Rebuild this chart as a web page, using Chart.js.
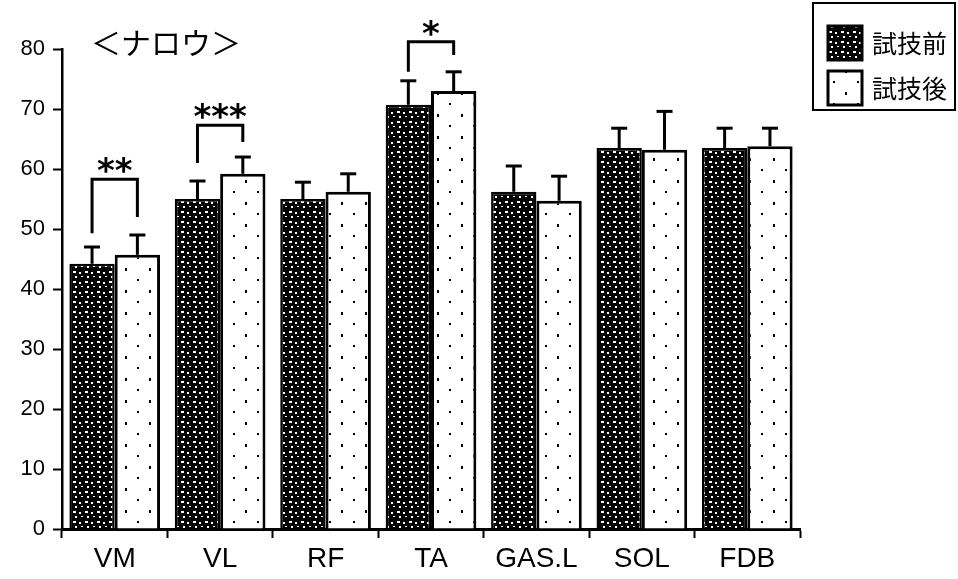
<!DOCTYPE html>
<html><head><meta charset="utf-8">
<script src="https://cdn.jsdelivr.net/npm/chart.js@4"></script>
<style>html,body{margin:0;padding:0;background:#fff;}</style>
</head><body>
<canvas id="c" width="958" height="579"></canvas>
<script>
const categories = ['VM', 'VL', 'RF', 'TA', 'GAS.L', 'SOL', 'FDB'];
const seriesLabels = ['試技前', '試技後'];
const beforeValues = [44.2, 55.0, 55.0, 70.7, 56.2, 63.5, 63.5];
const afterValues = [45.7, 59.2, 56.2, 73.0, 54.7, 63.2, 63.8];
const beforeErrTop = [47.0, 58.0, 57.8, 74.7, 60.5, 66.8, 66.8];
const afterErrTop = [49.0, 62.0, 59.2, 76.2, 58.8, 69.6, 66.8];
const yMin = 0, yMax = 80, yStep = 10;
const titleText = '＜ナロウ＞';
const sigCategories = [0, 1, 3];
const sigMarks = ['**', '***', '*'];
const sigTop = [58.3, 67.3, 81.2];
const sigLeftEnd = [49.3, 61.0, 76.2];
const sigRightEnd = [52.0, 64.5, 79.0];

function makeDarkPattern() {
  const c = document.createElement('canvas'); c.width = 12; c.height = 10;
  const g = c.getContext('2d');
  g.fillStyle = '#000'; g.fillRect(0, 0, 12, 10);
  g.fillStyle = '#fff';
  g.fillRect(1, 1, 3, 2); g.fillRect(7, 2, 2, 2);
  g.fillRect(3, 6, 2, 2); g.fillRect(9, 6, 2, 1);
  return g.createPattern(c, 'repeat');
}
function makeLightPattern() {
  const c = document.createElement('canvas'); c.width = 24; c.height = 22;
  const g = c.getContext('2d');
  g.fillStyle = '#fff'; g.fillRect(0, 0, 24, 22);
  g.fillStyle = '#000';
  g.fillRect(5, 4, 2, 3); g.fillRect(17, 15, 2, 2);
  return g.createPattern(c, 'repeat');
}
const darkPat = makeDarkPattern();
const lightPat = makeLightPattern();
const errTops = [beforeErrTop, afterErrTop];

const extrasPlugin = {
  id: 'extras',
  afterDatasetsDraw(chart) {
    const ctx = chart.ctx;
    const y = chart.scales.y;
    ctx.save();
    ctx.strokeStyle = '#000';
    ctx.fillStyle = '#000';
    // error bars (upper only)
    chart.data.datasets.forEach((ds, i) => {
      const meta = chart.getDatasetMeta(i);
      meta.data.forEach((el, j) => {
        const yt = y.getPixelForValue(errTops[i][j]);
        ctx.lineWidth = 3;
        ctx.beginPath(); ctx.moveTo(el.x, el.y); ctx.lineTo(el.x, yt); ctx.stroke();
        ctx.beginPath(); ctx.moveTo(el.x - 8, yt); ctx.lineTo(el.x + 8, yt); ctx.stroke();
      });
    });
    // significance brackets
    const m0 = chart.getDatasetMeta(0), m1 = chart.getDatasetMeta(1);
    sigCategories.forEach((ci, k) => {
      const xl = m0.data[ci].x, xr = m1.data[ci].x;
      const yt = y.getPixelForValue(sigTop[k]);
      ctx.lineWidth = 3;
      ctx.beginPath();
      ctx.moveTo(xl, y.getPixelForValue(sigLeftEnd[k]));
      ctx.lineTo(xl, yt); ctx.lineTo(xr, yt);
      ctx.lineTo(xr, y.getPixelForValue(sigRightEnd[k]));
      ctx.stroke();
      ctx.font = 'bold 34px "DejaVu Sans", sans-serif';
      ctx.textAlign = 'center'; ctx.textBaseline = 'alphabetic';
      ctx.fillText(sigMarks[k], (xl + xr) / 2, yt + 3);
    });
    // title
    ctx.font = '30px "Noto Sans CJK JP", sans-serif';
    ctx.textAlign = 'left'; ctx.textBaseline = 'middle';
    ctx.fillText(titleText, 91, 43);
    // legend
    ctx.lineWidth = 2;
    ctx.strokeRect(813, 3, 142, 107);
    const pats = [darkPat, lightPat];
    const rowsY = [43, 88];
    chart.data.datasets.forEach((ds, i) => {
      const cy = rowsY[i];
      ctx.fillStyle = pats[i];
      ctx.fillRect(828, cy - 17, 34, 34);
      ctx.lineWidth = 3;
      ctx.strokeRect(828, cy - 17, 34, 34);
      ctx.fillStyle = '#000';
      ctx.font = '25px "Noto Sans CJK JP", sans-serif';
      ctx.textAlign = 'left'; ctx.textBaseline = 'middle';
      ctx.fillText(ds.label, 872, cy);
    });
    ctx.restore();
  }
};

new Chart(document.getElementById('c'), {
  type: 'bar',
  data: {
    labels: categories,
    datasets: [
      { label: seriesLabels[0], data: beforeValues, backgroundColor: darkPat, borderColor: '#000', borderWidth: 2.5 },
      { label: seriesLabels[1], data: afterValues, backgroundColor: lightPat, borderColor: '#000', borderWidth: 3 }
    ]
  },
  options: {
    responsive: false,
    animation: false,
    devicePixelRatio: 1,
    layout: { padding: { top: 49, right: 158, left: 0, bottom: 0 } },
    plugins: { legend: { display: false }, tooltip: { enabled: false } },
    datasets: { bar: { categoryPercentage: 0.86, barPercentage: 1.0 } },
    scales: {
      x: {
        grid: { display: true, drawOnChartArea: false, drawTicks: true, tickLength: 9, tickWidth: 2, color: '#000' },
        border: { display: true, color: '#000', width: 3 },
        ticks: { color: '#000', padding: 4, font: { family: '"Liberation Sans Narrow", "Arial Narrow", "Liberation Sans", sans-serif', size: 28 } },
        afterFit(s) { s.height = 50; }
      },
      y: {
        min: yMin, max: yMax,
        grid: { display: true, drawOnChartArea: false, drawTicks: true, tickLength: 9, tickWidth: 2, color: '#000' },
        border: { display: true, color: '#000', width: 2.5 },
        ticks: { stepSize: yStep, color: '#000', padding: 8, font: { family: '"Liberation Sans", Arial, sans-serif', size: 22 } },
        afterFit(s) { s.width = 62; }
      }
    }
  },
  plugins: [extrasPlugin]
});
</script>
</body></html>
